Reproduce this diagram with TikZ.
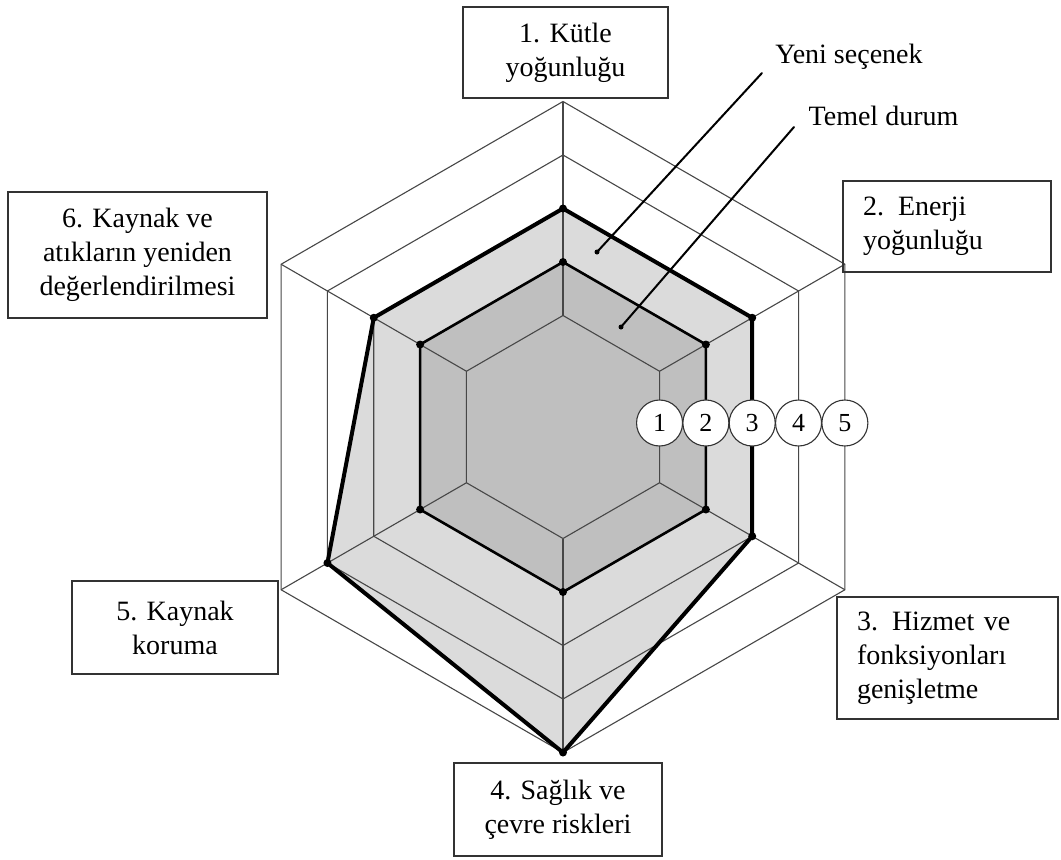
\documentclass[tikz,border=0pt]{standalone}
\usepackage{fontspec}
\setmainfont{Liberation Serif}
\begin{document}
\begin{tikzpicture}[x=1pt,y=-1pt,
  every node/.style={font=\fontsize{28}{34}\selectfont},
  grid/.style={draw=black!72, line width=1.1pt},
  newline/.style={draw=black, line width=4pt, line join=round},
  baseline/.style={draw=black, line width=2.6pt, line join=round},
  lvl/.style={circle, draw=black!80, fill=white, line width=1.1pt,
    minimum size=46pt, inner sep=0pt, font=\fontsize{26}{30}\selectfont},
  labelbox/.style={draw=black!80, line width=1.3pt, inner sep=0pt,
    align=center},
  leftbox/.style={draw=black!80, line width=1.3pt, inner xsep=20pt,
    inner ysep=0pt, align=left},
  pointer/.style={draw=black, line width=2pt, line cap=round}]
\useasboundingbox (0,0) rectangle (1061,860);
\fill[white] (0,0) rectangle (1061,860);

\begin{scope}[shift={(563,427)}]
  % grid vertices: level k, axis i
  \foreach \k in {1,...,5} {
    \pgfmathsetmacro\r{58+53.5*\k}
    \foreach \i/\a in {1/90,2/30,3/-30,4/-90,5/-150,6/150}
      \coordinate (g\k-\i) at (\a:\r pt);
  }

  % filled profiles
  \fill[black!14] (g3-1) -- (g3-2) -- (g3-3) -- (g5-4) -- (g4-5) -- (g3-6) -- cycle;
  \fill[black!25] (g2-1) -- (g2-2) -- (g2-3) -- (g2-4) -- (g2-5) -- (g2-6) -- cycle;

  % hexagonal grid and spokes
  \foreach \k in {1,...,5}
    \draw[grid] (g\k-1) -- (g\k-2) -- (g\k-3) -- (g\k-4) -- (g\k-5) -- (g\k-6) -- cycle;
  \foreach \i in {1,...,6}
    \draw[grid] (g1-\i) -- (g5-\i);

  % profile outlines
  \draw[newline] (g3-1) -- (g3-2) -- (g3-3) -- (g5-4) -- (g4-5) -- (g3-6) -- cycle;
  \draw[baseline] (g2-1) -- (g2-2) -- (g2-3) -- (g2-4) -- (g2-5) -- (g2-6) -- cycle;
  \foreach \p in {g3-1,g3-2,g3-3,g5-4,g4-5,g3-6,g2-1,g2-2,g2-3,g2-4,g2-5,g2-6}
    \fill (\p) circle (4pt);

  % scale markers
  \foreach \k in {1,...,5}
    \node[lvl] (c\k) at ({(58+53.5*\k)*0.866}, -4) {\k};
\end{scope}

% axis labels
\node[labelbox, minimum width=205pt, minimum height=91pt] (ax1) at (565.5,52.5)
  {1. Kütle\\yoğunluğu};
\node[leftbox, text width=168pt, minimum height=91pt] (ax2) at (947,226.5)
  {2. Enerji\\yoğunluğu};
\node[leftbox, text width=181pt, minimum height=122pt] (ax3) at (947.5,658)
  {3. Hizmet ve\\fonksiyonları\\genişletme};
\node[labelbox, minimum width=208pt, minimum height=93pt] (ax4) at (558,809.5)
  {4. Sağlık ve\\çevre riskleri};
\node[labelbox, minimum width=206pt, minimum height=93pt] (ax5) at (175,627.5)
  {5. Kaynak\\koruma};
\node[labelbox, minimum width=259pt, minimum height=126pt] (ax6) at (137.5,255)
  {6. Kaynak ve\\atıkların yeniden\\değerlendirilmesi};

% legend
\node[anchor=base, inner sep=0pt] (yeni) at (849,63) {Yeni seçenek};
\node[anchor=base, inner sep=0pt] (temel) at (883.5,125) {Temel durum};
\coordinate (yeni-a) at (762,73);
\coordinate (yeni-b) at (597,252);
\coordinate (temel-a) at (794,127);
\coordinate (temel-b) at (621,327);
\draw[pointer] (yeni-a) -- (yeni-b);
\draw[pointer] (temel-a) -- (temel-b);
\fill (yeni-b) circle (2.5pt);
\fill (temel-b) circle (2.5pt);
\end{tikzpicture}
\end{document}
